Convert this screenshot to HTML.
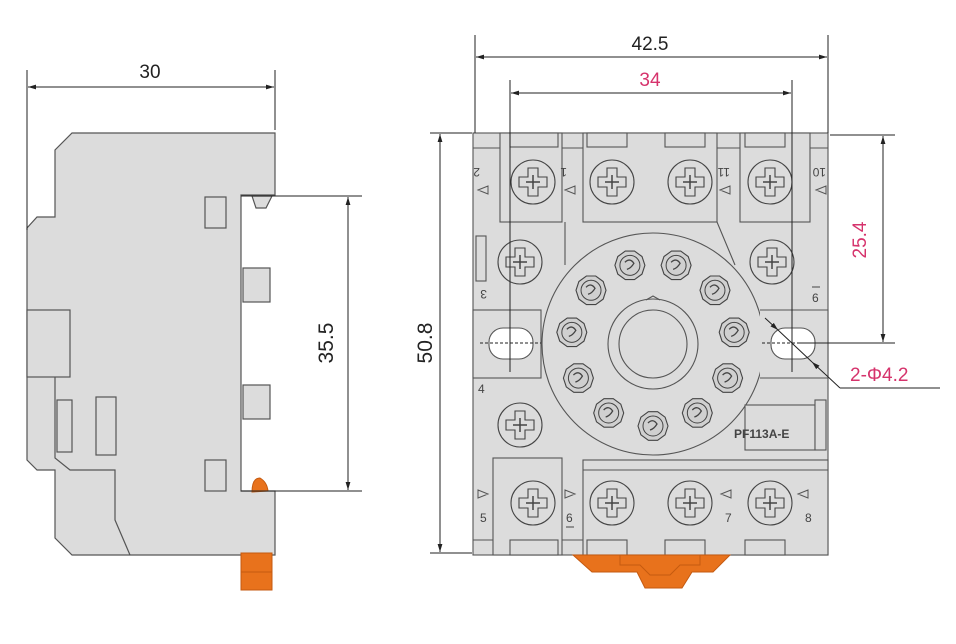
<!DOCTYPE html>
<html><head><meta charset="utf-8"><style>
html,body{margin:0;padding:0;background:#fff;width:956px;height:644px;overflow:hidden}
svg{display:block}
text{font-family:"Liberation Sans",sans-serif}
</style></head><body>
<svg id="s" width="956" height="644" viewBox="0 0 956 644" xmlns="http://www.w3.org/2000/svg">
<defs>
<marker id="a" viewBox="0 0 10 10" refX="10" refY="5" markerWidth="8" markerHeight="8" orient="auto-start-reverse"><path d="M0,2 L10,5 L0,8 z" fill="#222"/></marker>
</defs>
<!-- SIDE VIEW -->
<g stroke="#555" stroke-width="1.2" fill="#dcdcdc">
<path d="M72,133 L275,133 L275,195 L241,195 L241,491 L275,491 L275,555 L72,555 L55,538 L55,470 L37,470 L27,460 L27,228 L37,217 L55,217 L55,150 Z"/>
<rect x="27" y="310" width="43" height="67"/>
<path d="M55,377 L55,458 L70,470 L115,470 L115,520 L130,555" fill="none"/>
<rect x="205" y="197" width="21" height="31"/>
<rect x="205" y="460" width="21" height="31"/>
<rect x="96" y="397" width="20" height="58"/>
<rect x="57" y="400" width="15" height="52"/>
<rect x="243" y="268" width="27" height="34"/>
<rect x="243" y="385" width="27" height="34"/>
<path d="M252,196 L272,196 L266,208 L256,208 Z"/>
</g>
<g fill="#e8721c" stroke="#c55a10" stroke-width="1">
<rect x="241" y="553" width="31" height="37"/>
<path d="M252,492 Q252,478 260,478 Q267,482 268,491 Z"/>
</g>
<line x1="241" y1="572" x2="272" y2="572" stroke="#c55a10"/>
<!-- side dims -->
<g stroke="#222" stroke-width="1" fill="none">
<line x1="27" y1="70" x2="27" y2="230"/><line x1="275" y1="70" x2="275" y2="130"/>
<line x1="28" y1="87" x2="274" y2="87" marker-start="url(#a)" marker-end="url(#a)"/>
<line x1="241" y1="196" x2="362" y2="196"/><line x1="241" y1="491" x2="362" y2="491"/>
<line x1="348" y1="197" x2="348" y2="490" marker-start="url(#a)" marker-end="url(#a)"/>
</g>
<text x="150" y="78" font-size="19" text-anchor="middle" fill="#222">30</text>
<text transform="translate(333,343) rotate(-90)" font-size="21" text-anchor="middle" fill="#222">35.5</text>

<!-- FRONT VIEW -->
<g id="front" stroke="#555" stroke-width="1.1" fill="#dcdcdc">
<rect x="473" y="133" width="355" height="422"/>
<line x1="473" y1="148" x2="828" y2="148"/>
<line x1="473" y1="540" x2="828" y2="540"/>
<rect x="500" y="133" width="62" height="89"/>
<rect x="583" y="133" width="134" height="89"/>
<rect x="740" y="133" width="70" height="89"/>
<rect x="510" y="133" width="48" height="14"/><rect x="587" y="133" width="40" height="14"/><rect x="665" y="133" width="40" height="14"/><rect x="745" y="133" width="40" height="14"/>
<path d="M565,222 L565,265 M717,222 L735,265" fill="none"/>
<circle cx="653" cy="344" r="111"/>
<rect x="473" y="310" width="68" height="68"/>
<path d="M760,310 L828,310 L828,378 L760,378" />
<rect x="745" y="405" width="70" height="45"/>
<rect x="493" y="458" width="69" height="97"/>
<rect x="583" y="460" width="245" height="95"/>
<line x1="583" y1="470" x2="828" y2="470"/>
<rect x="510" y="540" width="48" height="15"/><rect x="587" y="540" width="40" height="15"/><rect x="665" y="540" width="40" height="15"/><rect x="745" y="540" width="40" height="15"/>
<rect x="476" y="236" width="10" height="45"/>
<rect x="815" y="400" width="11" height="50"/>
<circle cx="653" cy="344" r="45"/>
<circle cx="653" cy="344" r="34"/>
<path d="M646,300 L653,296 L660,300" fill="none"/>
</g>
<g fill="#fff" stroke="#555" stroke-width="1.1">
<rect x="489" y="328" width="44" height="31" rx="14"/>
<rect x="771" y="328" width="44" height="31" rx="14"/>
</g>
<g id="gen"></g>
<!-- labels -->
<g font-size="12" fill="#444">
<text transform="translate(480,168) rotate(180)">2</text>
<text transform="translate(567,168) rotate(180)">1</text>
<text transform="translate(730,168) rotate(180)">11</text>
<text transform="translate(826,168) rotate(180)">10</text>
<text transform="translate(487,290) rotate(180)">3</text>
<text x="812" y="302">6</text><line x1="812" y1="287" x2="820" y2="287" stroke="#444"/>
<text x="478" y="393">4</text>
<text x="480" y="522">5</text>
<text x="566" y="522">6</text><line x1="566" y1="527" x2="574" y2="527" stroke="#444"/>
<text x="725" y="522">7</text>
<text x="805" y="522">8</text>
<text x="734" y="438" font-weight="bold" font-size="12">PF113A-E</text>
</g>
<g fill="none" stroke="#555" stroke-width="1">
<path d="M478,190 l10,-4 l0,8 z M565,190 l10,-4 l0,8 z M720,190 l10,-4 l0,8 z M816,190 l10,-4 l0,8 z"/>
<path d="M478,490 l10,4 l-10,4 z M565,490 l10,4 l-10,4 z M731,490 l-10,4 l10,4 z M808,490 l-10,4 l10,4 z"/>
</g>
<path d="M573,555 L730,555 L713,572 L692,572 L682,588 L645,588 L637,572 L592,572 Z" fill="#e8721c" stroke="#c55a10"/>
<path d="M620,555 L620,565 L640,565 L650,575 L670,575 L680,565 L700,565 L700,555" fill="none" stroke="#c55a10"/>
<!-- front dims -->
<g stroke="#222" stroke-width="1" fill="none">
<line x1="475" y1="35" x2="475" y2="133"/><line x1="828" y1="35" x2="828" y2="133"/>
<line x1="476" y1="57" x2="827" y2="57" marker-start="url(#a)" marker-end="url(#a)"/>
<line x1="510" y1="80" x2="510" y2="372"/><line x1="792" y1="80" x2="792" y2="372"/>
<line x1="511" y1="93" x2="791" y2="93" marker-start="url(#a)" marker-end="url(#a)"/>
<line x1="430" y1="133" x2="472" y2="133"/><line x1="430" y1="553" x2="472" y2="553"/>
<line x1="440" y1="134" x2="440" y2="552" marker-start="url(#a)" marker-end="url(#a)"/>
<line x1="830" y1="135" x2="895" y2="135"/><line x1="800" y1="343" x2="895" y2="343"/>
<line x1="883" y1="136" x2="883" y2="342" marker-start="url(#a)" marker-end="url(#a)"/>
<line x1="765" y1="318" x2="778" y2="330" marker-end="url(#a)"/>
<line x1="778" y1="330" x2="812" y2="362"/>
<line x1="825" y1="374" x2="812" y2="362" marker-end="url(#a)"/>
<line x1="825" y1="374" x2="840" y2="388"/>
<line x1="840" y1="388" x2="940" y2="388"/>
<line x1="480" y1="343" x2="541" y2="343" stroke-dasharray="3,2"/>
<line x1="762" y1="343" x2="825" y2="343" stroke-dasharray="3,2"/>
</g>
<text x="650" y="50" font-size="19" text-anchor="middle" fill="#222">42.5</text>
<text x="650" y="86" font-size="19" text-anchor="middle" fill="#d6336c">34</text>
<text transform="translate(432,343) rotate(-90)" font-size="21" text-anchor="middle" fill="#222">50.8</text>
<text transform="translate(866,240) rotate(-90)" font-size="19" text-anchor="middle" fill="#d6336c">25.4</text>
<text x="850" y="381" font-size="19" fill="#d6336c">2-Φ4.2</text>
</svg>
<script>
var g=document.getElementById('gen'),ns='http://www.w3.org/2000/svg',h='';
function screw(x,y){h+='<circle cx="'+x+'" cy="'+y+'" r="22" fill="#dcdcdc" stroke="#444" stroke-width="1.1"/>'+
'<path d="M'+(x-14)+','+(y-5)+' h9 v-9 h10 v9 h9 v10 h-9 v9 h-10 v-9 h-9 z" fill="none" stroke="#444" stroke-width="1.1"/>'+
'<path d="M'+(x-7)+','+y+' h14 M'+x+','+(y-7)+' v14" stroke="#444" stroke-width="1.5"/>';}
[[533,182],[612,182],[690,182],[770,182],[520,262],[772,262],[520,425],[533,503],[612,503],[690,503],[770,503]].forEach(function(p){screw(p[0],p[1]);});
for(var i=0;i<11;i++){var a=(i+0.5)/11*2*Math.PI-Math.PI/2-0.0;var x=653+82*Math.cos(a),y=344+82*Math.sin(a);
var pts='';for(var k=0;k<10;k++){var b=k/10*2*Math.PI;pts+=(x+15*Math.cos(b)).toFixed(1)+','+(y+15*Math.sin(b)).toFixed(1)+' ';}
h+='<polygon points="'+pts+'" fill="#d0d0d0" stroke="#444" stroke-width="1.1"/><circle cx="'+x+'" cy="'+y+'" r="10" fill="none" stroke="#444"/><path d="M'+(x-5)+','+(y-3)+' q5,-5 9,1 q-3,5 -7,6" fill="none" stroke="#444" stroke-width="1.3"/>';}
g.innerHTML=h;
</script>
</body></html>
